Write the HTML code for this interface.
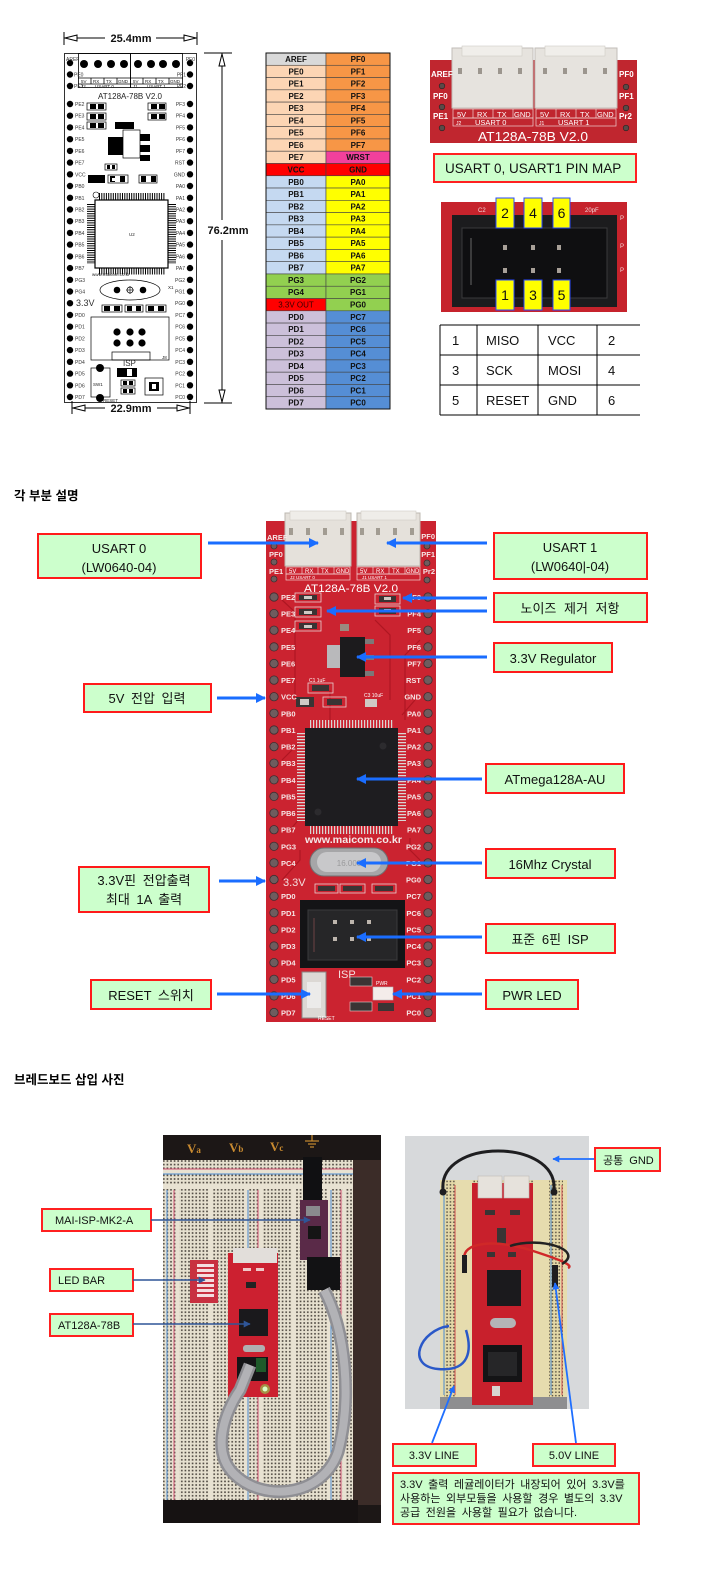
<!DOCTYPE html>
<html><head><meta charset="utf-8">
<style>
html,body{margin:0;padding:0;background:#fff;width:701px;height:1572px;overflow:hidden}
svg{display:block}
</style></head><body>
<svg xmlns="http://www.w3.org/2000/svg" width="701" height="1572" viewBox="0 0 701 1572" font-family="'Liberation Sans','Noto Sans CJK KR',sans-serif">
<defs>
<marker id="ab" viewBox="0 0 10 10" refX="9" refY="5" markerWidth="12" markerHeight="10" markerUnits="userSpaceOnUse" orient="auto"><path d="M0,0 L10,5 L0,10 z" fill="#1a6dff"/></marker>
<marker id="ad" viewBox="0 0 10 10" refX="9" refY="5" markerWidth="8" markerHeight="7" markerUnits="userSpaceOnUse" orient="auto"><path d="M0,0 L10,5 L0,10 z" fill="#2f5597"/></marker>
<marker id="ac" viewBox="0 0 10 10" refX="9" refY="5" markerWidth="9" markerHeight="7" markerUnits="userSpaceOnUse" orient="auto"><path d="M0,0 L10,5 L0,10 z" fill="#1f6fff"/></marker>
<pattern id="bb" width="3.6" height="3.6" patternUnits="userSpaceOnUse"><rect width="3.6" height="3.6" fill="#e6e0cf"/><rect x="1" y="1" width="1.6" height="1.6" fill="#4a443d"/></pattern>
<pattern id="bb2" width="3.4" height="3.4" patternUnits="userSpaceOnUse"><rect width="3.4" height="3.4" fill="#e4d9a8"/><rect x="0.9" y="0.9" width="1.5" height="1.5" fill="#5e5646"/></pattern>
</defs>

<!-- ================= TOP LEFT DRAWING ================= -->
<g fill="none" stroke="#000" stroke-width="0.8">
 <rect x="64.5" y="53.5" width="132" height="349"/>
 <rect x="78.5" y="53.5" width="52" height="34"/>
 <rect x="130.5" y="53.5" width="52" height="34"/>
 <line x1="78" y1="78" x2="183" y2="78"/>
 <line x1="78" y1="84" x2="183" y2="84"/>
 <line x1="91" y1="78" x2="91" y2="84"/><line x1="104" y1="78" x2="104" y2="84"/><line x1="117" y1="78" x2="117" y2="84"/>
 <line x1="143" y1="78" x2="143" y2="84"/><line x1="156" y1="78" x2="156" y2="84"/><line x1="169" y1="78" x2="169" y2="84"/>
</g>
<g fill="#000">
 <circle cx="84" cy="64" r="4"/><circle cx="98" cy="64" r="4"/><circle cx="111" cy="64" r="4"/><circle cx="124" cy="64" r="4"/>
 <circle cx="138" cy="64" r="4"/><circle cx="151" cy="64" r="4"/><circle cx="163" cy="64" r="4"/><circle cx="176" cy="64" r="4"/>
</g>
<g font-size="4.5" fill="#222">
 <text x="81" y="83">5V</text><text x="93" y="83">RX</text><text x="106" y="83">TX</text><text x="118" y="83">GND</text>
 <text x="133" y="83">5V</text><text x="145" y="83">RX</text><text x="158" y="83">TX</text><text x="170" y="83">GND</text>
 <text x="81" y="88">J2</text><text x="95" y="88">USART 0</text><text x="133" y="88">J1</text><text x="147" y="88">USART 1</text>
</g>
<text x="130" y="99" font-size="8" text-anchor="middle" fill="#222">AT128A-78B V2.0</text>

<!-- dimension lines -->
<g stroke="#000" stroke-width="1" fill="#fff">
 <line x1="64" y1="32" x2="64" y2="45"/><line x1="197" y1="32" x2="197" y2="45"/>
 <line x1="64" y1="38" x2="105" y2="38"/><line x1="156" y1="38" x2="197" y2="38"/>
 <polygon points="65,38 77,35 77,41"/><polygon points="196,38 184,35 184,41"/>
 <line x1="204" y1="53" x2="232" y2="53"/><line x1="204" y1="403" x2="232" y2="403"/>
 <line x1="222" y1="53" x2="222" y2="220"/><line x1="222" y1="240" x2="222" y2="403"/>
 <polygon points="222,54 219,66 225,66"/><polygon points="222,402 219,390 225,390"/>
 <line x1="72" y1="401" x2="72" y2="414"/><line x1="190" y1="401" x2="190" y2="414"/>
 <line x1="72" y1="408" x2="105" y2="408"/><line x1="157" y1="408" x2="190" y2="408"/>
 <polygon points="73,408 85,405 85,411"/><polygon points="189,408 177,405 177,411"/>
</g>
<g font-size="11" font-weight="bold" fill="#111">
 <text x="131" y="42" text-anchor="middle">25.4mm</text>
 <text x="228" y="234" text-anchor="middle">76.2mm</text>
 <text x="131" y="412" text-anchor="middle">22.9mm</text>
</g>

<!-- drawing components -->
<g fill="none" stroke="#000" stroke-width="0.7">
 <rect x="87" y="103" width="19" height="7"/><rect x="87" y="113" width="19" height="7"/><rect x="87" y="122" width="19" height="7"/>
 <rect x="148" y="103" width="18" height="7"/><rect x="148" y="113" width="18" height="7"/>
 <rect x="123" y="130" width="17" height="28"/>
 <rect x="105" y="164" width="12" height="6"/>
 <rect x="108" y="175" width="20" height="8"/><rect x="139" y="175" width="18" height="8"/>
 <rect x="95" y="200" width="73" height="68" stroke-width="1.2"/>
 <ellipse cx="130" cy="290" rx="30" ry="10"/>
 <circle cx="130" cy="290" r="3"/>
 <rect x="102" y="305" width="20" height="7"/><rect x="125" y="305" width="18" height="7"/><rect x="146" y="305" width="20" height="7"/>
 <rect x="91" y="317" width="78" height="43"/>
 <rect x="112" y="352" width="38" height="8"/>
 <rect x="91" y="368" width="19" height="29"/>
 <rect x="145" y="378" width="18" height="17"/>
 <rect x="121" y="380" width="14" height="6"/><rect x="121" y="388" width="14" height="6"/>
</g>
<g fill="#000">
 <rect x="90" y="104" width="6" height="5"/><rect x="98" y="104" width="6" height="5"/>
 <rect x="90" y="114" width="6" height="5"/><rect x="98" y="114" width="6" height="5"/>
 <rect x="90" y="123" width="6" height="5"/><rect x="98" y="123" width="6" height="5"/>
 <rect x="151" y="104" width="6" height="5"/><rect x="159" y="104" width="6" height="5"/>
 <rect x="151" y="114" width="6" height="5"/><rect x="159" y="114" width="6" height="5"/>
 <rect x="115" y="122" width="19" height="7"/>
 <rect x="108" y="137" width="15" height="18"/>
 <rect x="140" y="134" width="10" height="7"/><rect x="140" y="145" width="10" height="7"/><rect x="140" y="155" width="10" height="6"/>
 <rect x="107" y="165" width="3" height="4"/><rect x="112" y="165" width="3" height="4"/>
 <rect x="88" y="175" width="17" height="8"/>
 <rect x="110" y="176" width="5" height="6"/><rect x="120" y="176" width="5" height="6"/>
 <rect x="141" y="176" width="5" height="6"/><rect x="151" y="176" width="5" height="6"/>
 <circle cx="117" cy="290" r="3.3"/><circle cx="143" cy="290" r="3.3"/>
 <rect x="104" y="306" width="6" height="5"/><rect x="114" y="306" width="6" height="5"/>
 <rect x="127" y="306" width="5" height="5"/><rect x="136" y="306" width="5" height="5"/>
 <rect x="148" y="306" width="6" height="5"/><rect x="158" y="306" width="6" height="5"/>
 <circle cx="117" cy="332" r="3.6"/><circle cx="130" cy="332" r="3.6"/><circle cx="142" cy="332" r="3.6"/>
 <circle cx="117" cy="343" r="3.6"/><circle cx="130" cy="343" r="3.6"/><circle cx="142" cy="343" r="3.6"/>
 <circle cx="100" cy="368" r="4"/><circle cx="100" cy="398" r="4"/>
 <rect x="117" y="368" width="20" height="9"/>
 <rect x="123" y="381" width="4" height="4"/><rect x="129" y="381" width="4" height="4"/>
 <rect x="123" y="389" width="4" height="4"/><rect x="129" y="389" width="4" height="4"/>
 <rect x="149" y="382" width="10" height="9"/>
</g>
<rect x="112" y="178" width="3" height="3" fill="#fff"/>
<rect x="127" y="369" width="5" height="7" fill="#fff"/>
<rect x="152" y="384" width="4" height="5" fill="#fff"/>
<g stroke="#000" stroke-width="7" stroke-dasharray="1 1.3">
 <line x1="99" y1="196.5" x2="165" y2="196.5"/>
 <line x1="99" y1="271" x2="165" y2="271"/>
</g>
<g stroke="#000" stroke-width="8" stroke-dasharray="1 1.3">
 <line x1="91" y1="204" x2="91" y2="264"/>
 <line x1="172" y1="204" x2="172" y2="264"/>
</g>
<line x1="126" y1="290" x2="134" y2="290" stroke="#000" stroke-width="0.6"/><line x1="130" y1="286" x2="130" y2="294" stroke="#000" stroke-width="0.6"/>
<circle cx="96" cy="195" r="3" fill="none" stroke="#000" stroke-width="0.6"/>
<g font-size="4.5" fill="#222">
 <text x="92" y="276">www.maicom.co.kr</text>
 <text x="168" y="289">X1</text><text x="129" y="236">U2</text>
 <text x="93" y="386">SW1</text><text x="103" y="402">RESET</text>
 <text x="162" y="359">J8</text>
</g>
<text x="76" y="306" font-size="9" fill="#333">3.3V</text>
<text x="123" y="366" font-size="8" fill="#333">ISP</text>

<!-- drawing pins -->
<g fill="#000">
 <circle cx="70" cy="63" r="3.2"/><circle cx="70" cy="74.5" r="3.2"/><circle cx="70" cy="86" r="3.2"/>
 <circle cx="70" cy="104" r="3.2"/><circle cx="70" cy="115.7" r="3.2"/><circle cx="70" cy="127.4" r="3.2"/><circle cx="70" cy="139.2" r="3.2"/><circle cx="70" cy="150.9" r="3.2"/><circle cx="70" cy="162.6" r="3.2"/><circle cx="70" cy="174.3" r="3.2"/><circle cx="70" cy="186" r="3.2"/><circle cx="70" cy="197.8" r="3.2"/><circle cx="70" cy="209.5" r="3.2"/><circle cx="70" cy="221.2" r="3.2"/><circle cx="70" cy="232.9" r="3.2"/><circle cx="70" cy="244.6" r="3.2"/><circle cx="70" cy="256.4" r="3.2"/><circle cx="70" cy="268.1" r="3.2"/><circle cx="70" cy="279.8" r="3.2"/><circle cx="70" cy="291.5" r="3.2"/><circle cx="70" cy="303.2" r="3.2"/><circle cx="70" cy="315" r="3.2"/><circle cx="70" cy="326.7" r="3.2"/><circle cx="70" cy="338.4" r="3.2"/><circle cx="70" cy="350.1" r="3.2"/><circle cx="70" cy="361.8" r="3.2"/><circle cx="70" cy="373.6" r="3.2"/><circle cx="70" cy="385.3" r="3.2"/><circle cx="70" cy="397" r="3.2"/>
 <circle cx="190" cy="63" r="3.2"/><circle cx="190" cy="74.5" r="3.2"/><circle cx="190" cy="86" r="3.2"/>
 <circle cx="190" cy="104" r="3.2"/><circle cx="190" cy="115.7" r="3.2"/><circle cx="190" cy="127.4" r="3.2"/><circle cx="190" cy="139.2" r="3.2"/><circle cx="190" cy="150.9" r="3.2"/><circle cx="190" cy="162.6" r="3.2"/><circle cx="190" cy="174.3" r="3.2"/><circle cx="190" cy="186" r="3.2"/><circle cx="190" cy="197.8" r="3.2"/><circle cx="190" cy="209.5" r="3.2"/><circle cx="190" cy="221.2" r="3.2"/><circle cx="190" cy="232.9" r="3.2"/><circle cx="190" cy="244.6" r="3.2"/><circle cx="190" cy="256.4" r="3.2"/><circle cx="190" cy="268.1" r="3.2"/><circle cx="190" cy="279.8" r="3.2"/><circle cx="190" cy="291.5" r="3.2"/><circle cx="190" cy="303.2" r="3.2"/><circle cx="190" cy="315" r="3.2"/><circle cx="190" cy="326.7" r="3.2"/><circle cx="190" cy="338.4" r="3.2"/><circle cx="190" cy="350.1" r="3.2"/><circle cx="190" cy="361.8" r="3.2"/><circle cx="190" cy="373.6" r="3.2"/><circle cx="190" cy="385.3" r="3.2"/><circle cx="190" cy="397" r="3.2"/>
</g>
<g font-size="5" fill="#333">
 <text x="66" y="61">AREF</text><text x="74" y="76.5">PE0</text><text x="74" y="88">PE1</text>
 <text x="75" y="106">PE2</text><text x="75" y="117.7">PE3</text><text x="75" y="129.4">PE4</text><text x="75" y="141.2">PE5</text><text x="75" y="152.9">PE6</text><text x="75" y="164.6">PE7</text><text x="75" y="176.3">VCC</text><text x="75" y="188">PB0</text><text x="75" y="199.8">PB1</text><text x="75" y="211.5">PB2</text><text x="75" y="223.2">PB3</text><text x="75" y="234.9">PB4</text><text x="75" y="246.6">PB5</text><text x="75" y="258.4">PB6</text><text x="75" y="270.1">PB7</text><text x="75" y="281.8">PG3</text><text x="75" y="293.5">PG4</text><text x="75" y="317">PD0</text><text x="75" y="328.7">PD1</text><text x="75" y="340.4">PD2</text><text x="75" y="352.1">PD3</text><text x="75" y="363.8">PD4</text><text x="75" y="375.6">PD5</text><text x="75" y="387.3">PD6</text><text x="75" y="399">PD7</text>
</g>
<g font-size="5" fill="#333" text-anchor="end">
 <text x="195" y="61">PF0</text><text x="186" y="76.5">PF1</text><text x="186" y="88">PF2</text>
 <text x="185" y="106">PF3</text><text x="185" y="117.7">PF4</text><text x="185" y="129.4">PF5</text><text x="185" y="141.2">PF6</text><text x="185" y="152.9">PF7</text><text x="185" y="164.6">RST</text><text x="185" y="176.3">GND</text><text x="185" y="188">PA0</text><text x="185" y="199.8">PA1</text><text x="185" y="211.5">PA2</text><text x="185" y="223.2">PA3</text><text x="185" y="234.9">PA4</text><text x="185" y="246.6">PA5</text><text x="185" y="258.4">PA6</text><text x="185" y="270.1">PA7</text><text x="185" y="281.8">PG2</text><text x="185" y="293.5">PG1</text><text x="185" y="305.2">PG0</text><text x="185" y="317">PC7</text><text x="185" y="328.7">PC6</text><text x="185" y="340.4">PC5</text><text x="185" y="352.1">PC4</text><text x="185" y="363.8">PC3</text><text x="185" y="375.6">PC2</text><text x="185" y="387.3">PC1</text><text x="185" y="399">PC0</text>
</g>

<!-- ================= PIN TABLE ================= -->
<g stroke="#444" stroke-width="0.6">
 <rect x="266" y="53" width="60" height="12.28" fill="#d9d9d9"/><rect x="326" y="53" width="64" height="12.28" fill="#f79646"/>
 <rect x="266" y="65.28" width="60" height="12.28" fill="#fcd5b4"/><rect x="326" y="65.28" width="64" height="12.28" fill="#f79646"/>
 <rect x="266" y="77.55" width="60" height="12.28" fill="#fcd5b4"/><rect x="326" y="77.55" width="64" height="12.28" fill="#f79646"/>
 <rect x="266" y="89.83" width="60" height="12.28" fill="#fcd5b4"/><rect x="326" y="89.83" width="64" height="12.28" fill="#f79646"/>
 <rect x="266" y="102.1" width="60" height="12.28" fill="#fcd5b4"/><rect x="326" y="102.1" width="64" height="12.28" fill="#f79646"/>
 <rect x="266" y="114.38" width="60" height="12.28" fill="#fcd5b4"/><rect x="326" y="114.38" width="64" height="12.28" fill="#f79646"/>
 <rect x="266" y="126.66" width="60" height="12.28" fill="#fcd5b4"/><rect x="326" y="126.66" width="64" height="12.28" fill="#f79646"/>
 <rect x="266" y="138.93" width="60" height="12.28" fill="#fcd5b4"/><rect x="326" y="138.93" width="64" height="12.28" fill="#f79646"/>
 <rect x="266" y="151.21" width="60" height="12.28" fill="#fcd5b4"/><rect x="326" y="151.21" width="64" height="12.28" fill="#f2409c"/>
 <rect x="266" y="163.48" width="60" height="12.28" fill="#ff0000"/><rect x="326" y="163.48" width="64" height="12.28" fill="#ff0000"/>
 <rect x="266" y="175.76" width="60" height="12.28" fill="#c5d9f1"/><rect x="326" y="175.76" width="64" height="12.28" fill="#ffff00"/>
 <rect x="266" y="188.04" width="60" height="12.28" fill="#c5d9f1"/><rect x="326" y="188.04" width="64" height="12.28" fill="#ffff00"/>
 <rect x="266" y="200.31" width="60" height="12.28" fill="#c5d9f1"/><rect x="326" y="200.31" width="64" height="12.28" fill="#ffff00"/>
 <rect x="266" y="212.59" width="60" height="12.28" fill="#c5d9f1"/><rect x="326" y="212.59" width="64" height="12.28" fill="#ffff00"/>
 <rect x="266" y="224.86" width="60" height="12.28" fill="#c5d9f1"/><rect x="326" y="224.86" width="64" height="12.28" fill="#ffff00"/>
 <rect x="266" y="237.14" width="60" height="12.28" fill="#c5d9f1"/><rect x="326" y="237.14" width="64" height="12.28" fill="#ffff00"/>
 <rect x="266" y="249.42" width="60" height="12.28" fill="#c5d9f1"/><rect x="326" y="249.42" width="64" height="12.28" fill="#ffff00"/>
 <rect x="266" y="261.69" width="60" height="12.28" fill="#c5d9f1"/><rect x="326" y="261.69" width="64" height="12.28" fill="#ffff00"/>
 <rect x="266" y="273.97" width="60" height="12.28" fill="#92d050"/><rect x="326" y="273.97" width="64" height="12.28" fill="#92d050"/>
 <rect x="266" y="286.24" width="60" height="12.28" fill="#92d050"/><rect x="326" y="286.24" width="64" height="12.28" fill="#92d050"/>
 <rect x="266" y="298.52" width="60" height="12.28" fill="#ff0000"/><rect x="326" y="298.52" width="64" height="12.28" fill="#92d050"/>
 <rect x="266" y="310.8" width="60" height="12.28" fill="#ccc0da"/><rect x="326" y="310.8" width="64" height="12.28" fill="#558ed5"/>
 <rect x="266" y="323.07" width="60" height="12.28" fill="#ccc0da"/><rect x="326" y="323.07" width="64" height="12.28" fill="#558ed5"/>
 <rect x="266" y="335.35" width="60" height="12.28" fill="#ccc0da"/><rect x="326" y="335.35" width="64" height="12.28" fill="#558ed5"/>
 <rect x="266" y="347.62" width="60" height="12.28" fill="#ccc0da"/><rect x="326" y="347.62" width="64" height="12.28" fill="#558ed5"/>
 <rect x="266" y="359.9" width="60" height="12.28" fill="#ccc0da"/><rect x="326" y="359.9" width="64" height="12.28" fill="#558ed5"/>
 <rect x="266" y="372.18" width="60" height="12.28" fill="#ccc0da"/><rect x="326" y="372.18" width="64" height="12.28" fill="#558ed5"/>
 <rect x="266" y="384.45" width="60" height="12.28" fill="#ccc0da"/><rect x="326" y="384.45" width="64" height="12.28" fill="#558ed5"/>
 <rect x="266" y="396.73" width="60" height="12.28" fill="#ccc0da"/><rect x="326" y="396.73" width="64" height="12.28" fill="#558ed5"/>
</g>
<rect x="266" y="53" width="124" height="356" fill="none" stroke="#111" stroke-width="1"/>
<g font-size="8" font-weight="bold" fill="#111" text-anchor="middle">
 <text x="296" y="62">AREF</text><text x="358" y="62">PF0</text>
 <text x="296" y="74.3">PE0</text><text x="358" y="74.3">PF1</text>
 <text x="296" y="86.5">PE1</text><text x="358" y="86.5">PF2</text>
 <text x="296" y="98.8">PE2</text><text x="358" y="98.8">PF3</text>
 <text x="296" y="111.1">PE3</text><text x="358" y="111.1">PF4</text>
 <text x="296" y="123.4">PE4</text><text x="358" y="123.4">PF5</text>
 <text x="296" y="135.7">PE5</text><text x="358" y="135.7">PF6</text>
 <text x="296" y="147.9">PE6</text><text x="358" y="147.9">PF7</text>
 <text x="296" y="160.2">PE7</text><text x="358" y="160.2">WRST</text>
 <text x="296" y="172.5">VCC</text><text x="358" y="172.5">GND</text>
 <text x="296" y="184.8">PB0</text><text x="358" y="184.8">PA0</text>
 <text x="296" y="197">PB1</text><text x="358" y="197">PA1</text>
 <text x="296" y="209.3">PB2</text><text x="358" y="209.3">PA2</text>
 <text x="296" y="221.6">PB3</text><text x="358" y="221.6">PA3</text>
 <text x="296" y="233.9">PB4</text><text x="358" y="233.9">PA4</text>
 <text x="296" y="246.1">PB5</text><text x="358" y="246.1">PA5</text>
 <text x="296" y="258.4">PB6</text><text x="358" y="258.4">PA6</text>
 <text x="296" y="270.7">PB7</text><text x="358" y="270.7">PA7</text>
 <text x="296" y="283">PG3</text><text x="358" y="283">PG2</text>
 <text x="296" y="295.2">PG4</text><text x="358" y="295.2">PG1</text>
 <text x="296" y="307.5" fill="#3a0000" font-weight="normal">3.3V OUT</text><text x="358" y="307.5">PG0</text>
 <text x="296" y="319.8">PD0</text><text x="358" y="319.8">PC7</text>
 <text x="296" y="332.1">PD1</text><text x="358" y="332.1">PC6</text>
 <text x="296" y="344.3">PD2</text><text x="358" y="344.3">PC5</text>
 <text x="296" y="356.6">PD3</text><text x="358" y="356.6">PC4</text>
 <text x="296" y="368.9">PD4</text><text x="358" y="368.9">PC3</text>
 <text x="296" y="381.2">PD5</text><text x="358" y="381.2">PC2</text>
 <text x="296" y="393.4">PD6</text><text x="358" y="393.4">PC1</text>
 <text x="296" y="405.7">PD7</text><text x="358" y="405.7">PC0</text>
</g>

<!-- ================= TOP RIGHT: USART photo ================= -->
<rect x="430" y="60" width="207" height="83" fill="#c0262f"/>
<rect x="452" y="48" width="81" height="60" fill="#e6e3de" stroke="#c2beb8"/>
<rect x="535" y="48" width="82" height="60" fill="#e6e3de" stroke="#c2beb8"/>
<rect x="462" y="46" width="60" height="10" fill="#f0eeea" stroke="#cfcbc5" stroke-width="0.6"/>
<rect x="545" y="46" width="60" height="10" fill="#f0eeea" stroke="#cfcbc5" stroke-width="0.6"/>
<g fill="#9c968e">
 <rect x="458" y="68" width="4" height="6"/><rect x="478" y="68" width="4" height="6"/><rect x="498" y="68" width="4" height="6"/><rect x="518" y="68" width="4" height="6"/>
 <rect x="543" y="68" width="4" height="6"/><rect x="563" y="68" width="4" height="6"/><rect x="583" y="68" width="4" height="6"/><rect x="603" y="68" width="4" height="6"/>
</g>
<g fill="none" stroke="#f0d0d0" stroke-width="0.7">
 <rect x="453" y="109" width="80" height="9"/><rect x="536" y="109" width="80" height="9"/>
 <line x1="473" y1="109" x2="473" y2="118"/><line x1="493" y1="109" x2="493" y2="118"/><line x1="513" y1="109" x2="513" y2="118"/>
 <line x1="556" y1="109" x2="556" y2="118"/><line x1="576" y1="109" x2="576" y2="118"/><line x1="596" y1="109" x2="596" y2="118"/>
 <rect x="453" y="118" width="80" height="8"/><rect x="536" y="118" width="80" height="8"/>
</g>
<g font-size="7.5" fill="#fff">
 <text x="457" y="117">5V</text><text x="477" y="117">RX</text><text x="497" y="117">TX</text><text x="514" y="117">GND</text>
 <text x="540" y="117">5V</text><text x="560" y="117">RX</text><text x="580" y="117">TX</text><text x="597" y="117">GND</text>
 <text x="456" y="125" font-size="5">J2</text><text x="475" y="125">USART 0</text>
 <text x="539" y="125" font-size="5">J1</text><text x="558" y="125">USART 1</text>
</g>
<text x="533" y="141" font-size="12.5" fill="#fff" text-anchor="middle" textLength="110" lengthAdjust="spacingAndGlyphs">AT128A-78B V2.0</text>
<g font-size="8" font-weight="bold" fill="#fff">
 <text x="431" y="77">AREF</text><text x="433" y="99">PF0</text><text x="433" y="119">PE1</text>
 <text x="619" y="77">PF0</text><text x="619" y="99">PF1</text><text x="619" y="119">Pr2</text>
</g>
<g fill="#5a4a48" stroke="#2a2020" stroke-width="0.6">
 <circle cx="442" cy="86" r="2.8"/><circle cx="442" cy="107" r="2.8"/><circle cx="442" cy="128" r="2.8"/>
 <circle cx="626" cy="87" r="2.8"/><circle cx="626" cy="108" r="2.8"/><circle cx="626" cy="128" r="2.8"/>
</g>

<rect x="434" y="154" width="202" height="28" fill="#ccffcc" stroke="#ff2020" stroke-width="2"/>
<text x="445" y="173" font-size="13.5" fill="#111">USART 0, USART1 PIN MAP</text>

<!-- ISP photo -->
<rect x="441" y="202" width="186" height="110" fill="#c6232c"/>
<rect x="452" y="215" width="165" height="92" fill="#1c1c1e"/>
<rect x="462" y="228" width="145" height="70" fill="#0f0f11" stroke="#3a3a3c" stroke-width="1"/>
<line x1="471" y1="238" x2="471" y2="285" stroke="#4a4a4a" stroke-width="1.5"/>
<g fill="#a8a098">
 <rect x="503" y="245" width="4" height="5"/><rect x="531" y="245" width="4" height="5"/><rect x="557" y="245" width="4" height="5"/>
 <rect x="503" y="268" width="4" height="5"/><rect x="531" y="268" width="4" height="5"/><rect x="557" y="268" width="4" height="5"/>
</g>
<g font-size="6" fill="#f2dada"><text x="478" y="212">C2</text><text x="585" y="212">20pF</text><text x="620" y="220">P</text><text x="620" y="248">P</text><text x="620" y="272">P</text></g>
<g fill="#ffff00" stroke="#2a48ff" stroke-width="1">
 <rect x="496" y="198" width="18" height="30"/><rect x="524" y="198" width="18" height="30"/><rect x="553" y="198" width="17" height="30"/>
 <rect x="496" y="280" width="18" height="30"/><rect x="524" y="280" width="18" height="30"/><rect x="553" y="280" width="17" height="30"/>
</g>
<g font-size="14" fill="#111" text-anchor="middle">
 <text x="505" y="218">2</text><text x="533" y="218">4</text><text x="561.5" y="218">6</text>
 <text x="505" y="300">1</text><text x="533" y="300">3</text><text x="561.5" y="300">5</text>
</g>

<!-- ISP table -->
<g stroke="#000" stroke-width="1" fill="none">
 <line x1="440" y1="325" x2="640" y2="325"/><line x1="440" y1="355" x2="640" y2="355"/><line x1="440" y1="385" x2="640" y2="385"/><line x1="440" y1="415" x2="640" y2="415"/>
 <line x1="440" y1="325" x2="440" y2="415"/><line x1="477" y1="325" x2="477" y2="415"/><line x1="538" y1="325" x2="538" y2="415"/><line x1="597" y1="325" x2="597" y2="415"/>
</g>
<g font-size="13" fill="#111">
 <text x="452" y="345">1</text><text x="486" y="345">MISO</text><text x="548" y="345">VCC</text><text x="608" y="345">2</text>
 <text x="452" y="375">3</text><text x="486" y="375">SCK</text><text x="548" y="375">MOSI</text><text x="608" y="375">4</text>
 <text x="452" y="405">5</text><text x="486" y="405">RESET</text><text x="548" y="405">GND</text><text x="608" y="405">6</text>
</g>

<!-- ================= SECTION 2 ================= -->
<text x="14" y="500" font-size="12.5" font-weight="bold" fill="#000">각 부분 설명</text>

<!-- PCB -->
<rect x="266" y="521" width="170" height="501" fill="#cb2330"/>
<g stroke="#a8141f" stroke-width="1.2" fill="none" opacity="0.8">
 <path d="M282 600 L295 612 L295 700"/><path d="M282 760 L300 742"/><path d="M420 640 L405 655 L405 720"/>
 <path d="M282 880 L300 860 L300 850"/><path d="M415 700 L402 715"/><path d="M290 830 L300 818"/>
 <path d="M420 860 L410 850 L410 838"/><path d="M375 620 L390 635 L390 700"/><path d="M330 690 L330 720"/>
</g>
<!-- connectors -->
<rect x="285" y="513" width="66" height="53" fill="#e5e1db" stroke="#bdb8b0"/>
<rect x="357" y="513" width="63" height="53" fill="#e5e1db" stroke="#bdb8b0"/>
<rect x="290" y="511" width="56" height="9" fill="#efede9" stroke="#cfcbc5" stroke-width="0.6"/>
<rect x="361" y="511" width="55" height="9" fill="#efede9" stroke="#cfcbc5" stroke-width="0.6"/>
<g fill="#a29c92">
 <rect x="289" y="528" width="4" height="7"/><rect x="306" y="528" width="4" height="7"/><rect x="323" y="528" width="4" height="7"/><rect x="340" y="528" width="4" height="7"/>
 <rect x="360" y="528" width="4" height="7"/><rect x="376" y="528" width="4" height="7"/><rect x="393" y="528" width="4" height="7"/><rect x="410" y="528" width="4" height="7"/>
</g>
<g fill="none" stroke="#f2d2d2" stroke-width="0.7">
 <rect x="286" y="567" width="64" height="7"/><rect x="357" y="567" width="63" height="7"/>
 <rect x="286" y="574" width="64" height="6"/><rect x="357" y="574" width="63" height="6"/>
 <line x1="302" y1="567" x2="302" y2="574"/><line x1="318" y1="567" x2="318" y2="574"/><line x1="334" y1="567" x2="334" y2="574"/>
 <line x1="373" y1="567" x2="373" y2="574"/><line x1="389" y1="567" x2="389" y2="574"/><line x1="405" y1="567" x2="405" y2="574"/>
</g>
<g font-size="6" fill="#fff">
 <text x="289" y="573">5V</text><text x="305" y="573">RX</text><text x="321" y="573">TX</text><text x="336" y="573">GND</text>
 <text x="360" y="573">5V</text><text x="376" y="573">RX</text><text x="392" y="573">TX</text><text x="406" y="573">GND</text>
 <text x="290" y="579" font-size="4.5">J2 USART 0</text><text x="362" y="579" font-size="4.5">J1 USART 1</text>
</g>
<text x="351" y="592" font-size="11" fill="#fff" text-anchor="middle" textLength="94" lengthAdjust="spacingAndGlyphs">AT128A-78B V2.0</text>
<!-- resistors -->
<g fill="none" stroke="#e8d0d0" stroke-width="0.8">
 <rect x="295" y="593" width="26" height="9"/><rect x="295" y="607" width="26" height="10"/><rect x="295" y="621" width="26" height="10"/>
 <rect x="375" y="594" width="25" height="10"/><rect x="375" y="606" width="25" height="10"/>
 <rect x="308" y="683" width="25" height="10"/><rect x="323" y="697" width="23" height="10"/>
 <rect x="315" y="884" width="23" height="9"/><rect x="340" y="884" width="25" height="9"/><rect x="372" y="884" width="24" height="9"/>
</g>
<g fill="#3a3434">
 <rect x="299" y="595" width="18" height="5"/><rect x="299" y="609" width="18" height="6"/><rect x="299" y="623" width="18" height="6"/>
 <rect x="379" y="596" width="17" height="6"/><rect x="379" y="608" width="17" height="6"/>
 <rect x="312" y="685" width="17" height="6"/><rect x="296" y="697" width="18" height="10"/><rect x="327" y="699" width="15" height="6"/>
 <rect x="318" y="886" width="17" height="5"/><rect x="343" y="886" width="19" height="5"/><rect x="375" y="886" width="18" height="5"/>
</g>
<g fill="#cfc9c4">
 <rect x="304" y="596" width="8" height="3"/><rect x="304" y="611" width="8" height="3"/><rect x="304" y="625" width="8" height="3"/>
 <rect x="384" y="597" width="7" height="3"/><rect x="384" y="609" width="7" height="3"/>
 <rect x="300" y="699" width="9" height="6"/><rect x="365" y="699" width="12" height="8"/>
</g>
<rect x="340" y="624" width="9" height="7" fill="#9a8a80"/>
<!-- regulator -->
<rect x="327" y="645" width="14" height="23" fill="#b9b9bb"/>
<rect x="340" y="637" width="25" height="40" fill="#1c1b1d"/>
<g fill="#7c7878"><rect x="365" y="639" width="9" height="5"/><rect x="365" y="655" width="9" height="5"/><rect x="365" y="671" width="9" height="5"/></g>
<g font-size="5" fill="#fff"><text x="309" y="682">C1 1uF</text><text x="364" y="697">C3 10uF</text></g>
<!-- main chip -->
<g stroke="#d8d6d4" stroke-dasharray="1.2 1.8">
 <line x1="310" y1="724" x2="393" y2="724" stroke-width="8"/>
 <line x1="310" y1="830" x2="393" y2="830" stroke-width="8"/>
 <line x1="301" y1="733" x2="301" y2="821" stroke-width="8"/>
 <line x1="402" y1="733" x2="402" y2="821" stroke-width="8"/>
</g>
<rect x="305" y="728" width="93" height="98" fill="#1e1d20"/>
<circle cx="318" cy="812" r="3.5" fill="#2c2b2e"/><circle cx="383" cy="746" r="3.5" fill="#2c2b2e"/>
<text x="305" y="843" font-size="10.5" font-weight="bold" fill="#f4e8e8" textLength="97" lengthAdjust="spacingAndGlyphs">www.maicom.co.kr</text>
<!-- crystal -->
<rect x="310" y="848" width="78" height="28" rx="14" fill="#a6a6a8" stroke="#707072"/>
<rect x="317" y="852" width="64" height="20" rx="10" fill="#c8c8ca"/>
<text x="349" y="866" font-size="8" fill="#9a9a9c" text-anchor="middle">16.000</text>
<!-- ISP header -->
<rect x="300" y="900" width="105" height="68" fill="#141416"/>
<rect x="308" y="910" width="89" height="50" fill="#262628" stroke="#3a3a3c"/>
<line x1="314" y1="918" x2="314" y2="952" stroke="#55393a" stroke-width="1.5"/>
<g fill="#bdb5ad">
 <rect x="333" y="920" width="4" height="4"/><rect x="350" y="920" width="4" height="4"/><rect x="367" y="920" width="4" height="4"/>
 <rect x="333" y="937" width="4" height="4"/><rect x="350" y="937" width="4" height="4"/><rect x="367" y="937" width="4" height="4"/>
</g>
<text x="338" y="978" font-size="11" fill="#f4dede">ISP</text>
<!-- reset switch -->
<rect x="302" y="972" width="24" height="46" fill="#dcd8d4" stroke="#8a8684"/>
<rect x="307" y="982" width="14" height="26" fill="#ecebea"/>
<text x="318" y="1020" font-size="5" fill="#fff">RESET</text>
<!-- small parts bottom -->
<rect x="350" y="977" width="22" height="9" fill="#3a3434" stroke="#e8d0d0" stroke-width="0.6"/>
<rect x="350" y="1002" width="22" height="9" fill="#3a3434" stroke="#e8d0d0" stroke-width="0.6"/>
<rect x="373" y="987" width="20" height="13" fill="#f4ecea" stroke="#bbb" stroke-width="0.6"/>
<rect x="378" y="1003" width="16" height="8" fill="#3a3434"/>
<text x="376" y="985" font-size="5" fill="#fff">PWR</text>
<text x="283" y="886" font-size="11" fill="#f4dede">3.3V</text>

<!-- section 2 pins -->
<g fill="#6e5c5e" stroke="#3e2e30" stroke-width="0.8">
 <circle cx="274" cy="546" r="3"/><circle cx="274" cy="562" r="3"/><circle cx="274" cy="579" r="3"/>
 <circle cx="427" cy="546" r="3"/><circle cx="427" cy="563" r="3"/><circle cx="427" cy="580" r="3"/>
 <circle cx="274" cy="597" r="4.2"/><circle cx="274" cy="613.6" r="4.2"/><circle cx="274" cy="630.2" r="4.2"/><circle cx="274" cy="646.9" r="4.2"/><circle cx="274" cy="663.5" r="4.2"/><circle cx="274" cy="680.1" r="4.2"/><circle cx="274" cy="696.7" r="4.2"/><circle cx="274" cy="713.3" r="4.2"/><circle cx="274" cy="730" r="4.2"/><circle cx="274" cy="746.6" r="4.2"/><circle cx="274" cy="763.2" r="4.2"/><circle cx="274" cy="779.8" r="4.2"/><circle cx="274" cy="796.4" r="4.2"/><circle cx="274" cy="813.1" r="4.2"/><circle cx="274" cy="829.7" r="4.2"/><circle cx="274" cy="846.3" r="4.2"/><circle cx="274" cy="862.9" r="4.2"/><circle cx="274" cy="879.5" r="4.2"/><circle cx="274" cy="896.2" r="4.2"/><circle cx="274" cy="912.8" r="4.2"/><circle cx="274" cy="929.4" r="4.2"/><circle cx="274" cy="946" r="4.2"/><circle cx="274" cy="962.6" r="4.2"/><circle cx="274" cy="979.3" r="4.2"/><circle cx="274" cy="995.9" r="4.2"/><circle cx="274" cy="1012.5" r="4.2"/>
 <circle cx="428" cy="597" r="4.2"/><circle cx="428" cy="613.6" r="4.2"/><circle cx="428" cy="630.2" r="4.2"/><circle cx="428" cy="646.9" r="4.2"/><circle cx="428" cy="663.5" r="4.2"/><circle cx="428" cy="680.1" r="4.2"/><circle cx="428" cy="696.7" r="4.2"/><circle cx="428" cy="713.3" r="4.2"/><circle cx="428" cy="730" r="4.2"/><circle cx="428" cy="746.6" r="4.2"/><circle cx="428" cy="763.2" r="4.2"/><circle cx="428" cy="779.8" r="4.2"/><circle cx="428" cy="796.4" r="4.2"/><circle cx="428" cy="813.1" r="4.2"/><circle cx="428" cy="829.7" r="4.2"/><circle cx="428" cy="846.3" r="4.2"/><circle cx="428" cy="862.9" r="4.2"/><circle cx="428" cy="879.5" r="4.2"/><circle cx="428" cy="896.2" r="4.2"/><circle cx="428" cy="912.8" r="4.2"/><circle cx="428" cy="929.4" r="4.2"/><circle cx="428" cy="946" r="4.2"/><circle cx="428" cy="962.6" r="4.2"/><circle cx="428" cy="979.3" r="4.2"/><circle cx="428" cy="995.9" r="4.2"/><circle cx="428" cy="1012.5" r="4.2"/>
</g>
<g font-size="7.5" font-weight="bold" fill="#f6e6e6">
 <text x="267" y="540">AREF</text><text x="269" y="557">PF0</text><text x="269" y="574">PE1</text>
 <text x="281" y="600">PE2</text><text x="281" y="616.6">PE3</text><text x="281" y="633.2">PE4</text><text x="281" y="649.9">PE5</text><text x="281" y="666.5">PE6</text><text x="281" y="683.1">PE7</text><text x="281" y="699.7">VCC</text><text x="281" y="716.3">PB0</text><text x="281" y="733">PB1</text><text x="281" y="749.6">PB2</text><text x="281" y="766.2">PB3</text><text x="281" y="782.8">PB4</text><text x="281" y="799.4">PB5</text><text x="281" y="816.1">PB6</text><text x="281" y="832.7">PB7</text><text x="281" y="849.3">PG3</text><text x="281" y="865.9">PC4</text><text x="281" y="899.2">PD0</text><text x="281" y="915.8">PD1</text><text x="281" y="932.4">PD2</text><text x="281" y="949">PD3</text><text x="281" y="965.6">PD4</text><text x="281" y="982.3">PD5</text><text x="281" y="998.9">PD6</text><text x="281" y="1015.5">PD7</text>
</g>
<g font-size="7.5" font-weight="bold" fill="#f6e6e6" text-anchor="end">
 <text x="435" y="539">PF0</text><text x="435" y="557">PF1</text><text x="435" y="574">Pr2</text>
 <text x="421" y="600">PF3</text><text x="421" y="616.6">PF4</text><text x="421" y="633.2">PF5</text><text x="421" y="649.9">PF6</text><text x="421" y="666.5">PF7</text><text x="421" y="683.1">RST</text><text x="421" y="699.7">GND</text><text x="421" y="716.3">PA0</text><text x="421" y="733">PA1</text><text x="421" y="749.6">PA2</text><text x="421" y="766.2">PA3</text><text x="421" y="782.8">PA4</text><text x="421" y="799.4">PA5</text><text x="421" y="816.1">PA6</text><text x="421" y="832.7">PA7</text><text x="421" y="849.3">PG2</text><text x="421" y="865.9">PG1</text><text x="421" y="882.5">PG0</text><text x="421" y="899.2">PC7</text><text x="421" y="915.8">PC6</text><text x="421" y="932.4">PC5</text><text x="421" y="949">PC4</text><text x="421" y="965.6">PC3</text><text x="421" y="982.3">PC2</text><text x="421" y="998.9">PC1</text><text x="421" y="1015.5">PC0</text>
</g>

<!-- section 2 callout boxes -->
<g fill="#ccffcc" stroke="#ff1a1a" stroke-width="2">
 <rect x="38" y="534" width="163" height="44"/>
 <rect x="84" y="684" width="127" height="28"/>
 <rect x="79" y="867" width="130" height="45"/>
 <rect x="91" y="980" width="120" height="29"/>
 <rect x="494" y="533" width="153" height="46"/>
 <rect x="494" y="593" width="153" height="29"/>
 <rect x="494" y="643" width="118" height="29"/>
 <rect x="486" y="764" width="138" height="29"/>
 <rect x="486" y="849" width="129" height="29"/>
 <rect x="486" y="924" width="129" height="29"/>
 <rect x="486" y="980" width="92" height="29"/>
</g>
<g font-size="13" fill="#111" text-anchor="middle">
 <text x="119" y="553">USART 0</text><text x="119" y="572">(LW0640-04)</text>
 <text x="147" y="703" word-spacing="3">5V 전압 입력</text>
 <text x="144" y="885" word-spacing="3">3.3V핀 전압출력</text><text x="144" y="904" word-spacing="3">최대 1A 출력</text>
 <text x="151" y="1000" word-spacing="3">RESET 스위치</text>
 <text x="570" y="552">USART 1</text><text x="570" y="571">(LW0640|-04)</text>
 <text x="570" y="613" word-spacing="4">노이즈 제거 저항</text>
 <text x="553" y="663">3.3V Regulator</text>
 <text x="555" y="784">ATmega128A-AU</text>
 <text x="550" y="869">16Mhz Crystal</text>
 <text x="550" y="944" word-spacing="3">표준 6핀 ISP</text>
 <text x="532" y="1000">PWR LED</text>
</g>
<!-- section 2 arrows -->
<g stroke="#1a6dff" stroke-width="3" marker-end="url(#ab)">
 <line x1="208" y1="543" x2="318" y2="543"/>
 <line x1="217" y1="698" x2="265" y2="698"/>
 <line x1="219" y1="881" x2="265" y2="881"/>
 <line x1="217" y1="994" x2="310" y2="994"/>
 <line x1="487" y1="543" x2="387" y2="543"/>
 <line x1="487" y1="598" x2="403" y2="598"/>
 <line x1="487" y1="611" x2="327" y2="611"/>
 <line x1="487" y1="657" x2="357" y2="657"/>
 <line x1="482" y1="779" x2="357" y2="779"/>
 <line x1="482" y1="863" x2="357" y2="863"/>
 <line x1="482" y1="937" x2="357" y2="937"/>
 <line x1="482" y1="994" x2="393" y2="994"/>
</g>

<!-- ================= SECTION 3 ================= -->
<text x="14" y="1084" font-size="12.5" font-weight="bold" fill="#000">브레드보드 삽입 사진</text>

<!-- left photo -->
<rect x="163" y="1135" width="218" height="388" fill="#1c1716"/>
<rect x="353" y="1160" width="28" height="345" fill="#3b2c28"/>
<g font-family="'Liberation Serif',serif" font-weight="bold" fill="#c88a30">
 <text x="187" y="1153" font-size="13">V<tspan font-size="9">a</tspan></text>
 <text x="229" y="1152" font-size="13">V<tspan font-size="9">b</tspan></text>
 <text x="270" y="1151" font-size="13">V<tspan font-size="9">c</tspan></text>
</g>
<g stroke="#c88a30" stroke-width="1.2">
 <line x1="312" y1="1135" x2="312" y2="1141"/><line x1="305" y1="1141" x2="319" y2="1141"/><line x1="308" y1="1144" x2="316" y2="1144"/><line x1="310" y1="1147" x2="314" y2="1147"/>
</g>
<rect x="163" y="1160" width="190" height="342" fill="url(#bb)"/>
<g fill="#e8e2d2">
 <rect x="163" y="1169" width="190" height="5"/>
 <rect x="163" y="1184" width="190" height="5"/>
 <rect x="176" y="1189" width="3" height="313"/><rect x="209" y="1189" width="4" height="313"/><rect x="244" y="1189" width="4" height="313"/>
 <rect x="260" y="1189" width="3" height="313"/><rect x="292" y="1189" width="4" height="313"/><rect x="327" y="1189" width="4" height="313"/>
 <rect x="343" y="1189" width="3" height="313"/>
</g>
<g stroke-width="1">
 <line x1="163" y1="1169" x2="353" y2="1169" stroke="#d05070"/><line x1="163" y1="1174" x2="353" y2="1174" stroke="#4a8ad0"/>
 <line x1="167" y1="1190" x2="167" y2="1500" stroke="#4a8ad0"/><line x1="174" y1="1190" x2="174" y2="1500" stroke="#d05070"/>
 <line x1="248" y1="1190" x2="248" y2="1500" stroke="#4a8ad0"/><line x1="258" y1="1190" x2="258" y2="1500" stroke="#d05070"/>
 <line x1="331" y1="1190" x2="331" y2="1500" stroke="#4a8ad0"/><line x1="341" y1="1190" x2="341" y2="1500" stroke="#d05070"/>
</g>
<rect x="163" y="1500" width="195" height="23" fill="#161212"/>
<!-- programmer -->
<rect x="303" y="1157" width="19" height="44" fill="#101012"/>
<rect x="300" y="1200" width="28" height="60" fill="#5a2a48"/>
<rect x="306" y="1206" width="14" height="10" fill="#8a8a8e"/>
<rect x="308" y="1226" width="13" height="13" fill="#151515"/>
<rect x="307" y="1257" width="33" height="33" fill="#121214"/>
<!-- LED bar -->
<rect x="190" y="1260" width="28" height="43" fill="#c83040"/>
<g fill="#f4dde0"><rect x="197" y="1264" width="17" height="3"/><rect x="197" y="1269" width="17" height="3"/><rect x="197" y="1274" width="17" height="3"/><rect x="197" y="1279" width="17" height="3"/><rect x="197" y="1284" width="17" height="3"/><rect x="197" y="1289" width="17" height="3"/><rect x="197" y="1294" width="17" height="3"/></g>
<!-- red board -->
<rect x="228" y="1253" width="50" height="144" fill="#cc2030"/>
<rect x="233" y="1248" width="44" height="15" fill="#e2deda"/>
<g fill="#f0c8c8"><rect x="243" y="1268" width="8" height="3"/><rect x="256" y="1268" width="8" height="3"/><rect x="246" y="1282" width="10" height="6" fill="#222"/></g>
<rect x="239" y="1309" width="29" height="27" fill="#1a191c"/>
<rect x="243" y="1345" width="22" height="7" rx="3" fill="#b0b0b2"/>
<rect x="237" y="1357" width="31" height="24" fill="#151517"/>
<rect x="256" y="1358" width="10" height="14" fill="#1e5a2a"/>
<circle cx="265" cy="1389" r="5" fill="#7dff5a" opacity="0.5"/>
<circle cx="265" cy="1389" r="2.5" fill="#d8ffc8"/>
<!-- ribbon -->
<path d="M324 1290 C346 1330 352 1400 338 1452 C322 1498 262 1502 234 1474 C210 1450 226 1410 240 1390 L250 1365" fill="none" stroke="#8f8f94" stroke-width="13"/>
<path d="M324 1290 C346 1330 352 1400 338 1452 C322 1498 262 1502 234 1474 C210 1450 226 1410 240 1390 L250 1365" fill="none" stroke="#b2b2b6" stroke-width="8"/>

<!-- left callouts -->
<g fill="#ccffcc" stroke="#ff2020" stroke-width="2">
 <rect x="42" y="1209" width="109" height="22"/>
 <rect x="50" y="1269" width="83" height="22"/>
 <rect x="50" y="1314" width="83" height="22"/>
</g>
<g font-size="11" fill="#111">
 <text x="55" y="1224">MAI-ISP-MK2-A</text>
 <text x="58" y="1284">LED BAR</text>
 <text x="58" y="1329">AT128A-78B</text>
</g>
<g stroke="#2f5597" stroke-width="1.6" marker-end="url(#ad)">
 <line x1="151" y1="1220" x2="310" y2="1220"/>
 <line x1="133" y1="1280" x2="205" y2="1280"/>
 <line x1="133" y1="1324" x2="250" y2="1324"/>
</g>

<!-- right photo -->
<rect x="405" y="1136" width="184" height="273" fill="#d7d9db"/>
<rect x="440" y="1395" width="127" height="14" fill="#8e8e90"/>
<rect x="440" y="1180" width="127" height="217" fill="url(#bb2)"/>
<g fill="#e6dcae">
 <rect x="440" y="1180" width="4" height="217"/><rect x="456" y="1180" width="16" height="217"/>
 <rect x="533" y="1180" width="16" height="217"/><rect x="563" y="1180" width="4" height="217"/>
</g>
<g stroke-width="1">
 <line x1="444" y1="1185" x2="444" y2="1395" stroke="#4a8ad0"/><line x1="455" y1="1185" x2="455" y2="1395" stroke="#d05050"/>
 <line x1="551" y1="1185" x2="551" y2="1395" stroke="#4a8ad0"/><line x1="562" y1="1185" x2="562" y2="1395" stroke="#d05050"/>
</g>
<rect x="472" y="1183" width="61" height="222" fill="#c8202c"/>
<rect x="478" y="1176" width="24" height="22" fill="#e6e2dc" stroke="#c0bcb6" stroke-width="0.6"/>
<rect x="504" y="1176" width="25" height="22" fill="#e6e2dc" stroke="#c0bcb6" stroke-width="0.6"/>
<g fill="#3a3434"><rect x="485" y="1210" width="10" height="5"/><rect x="510" y="1210" width="10" height="5"/><rect x="497" y="1228" width="9" height="16"/><rect x="487" y="1252" width="8" height="5"/><rect x="508" y="1252" width="8" height="5"/></g>
<rect x="487" y="1270" width="34" height="36" fill="#1b1a1d"/>
<rect x="490" y="1318" width="26" height="10" rx="5" fill="#b4b4b6"/>
<rect x="483" y="1345" width="39" height="37" fill="#141416"/>
<rect x="488" y="1352" width="29" height="24" fill="#262628"/>
<rect x="492" y="1386" width="8" height="10" fill="#d8d4d0"/>
<path d="M443 1190 C438 1138 558 1138 554 1190" fill="none" stroke="#1e1e20" stroke-width="3"/>
<circle cx="443" cy="1192" r="3.5" fill="#1e1e20"/><circle cx="554" cy="1192" r="3.5" fill="#1e1e20"/>
<path d="M465 1262 C458 1240 500 1240 530 1250 C555 1258 575 1265 568 1268" fill="none" stroke="#d02828" stroke-width="2.5"/>
<path d="M510 1246 C540 1236 585 1250 562 1264" fill="none" stroke="#222" stroke-width="2.5"/>
<rect x="552" y="1265" width="6" height="22" fill="#1e1e20"/>
<rect x="462" y="1255" width="5" height="18" fill="#1e1e20"/>
<path d="M449 1326 C420 1330 405 1366 438 1369 C470 1372 472 1350 466 1330" fill="none" stroke="#2a58c8" stroke-width="2.5"/>

<g fill="#ccffcc" stroke="#ff2020" stroke-width="2">
 <rect x="595" y="1148" width="65" height="23"/>
 <rect x="393" y="1444" width="83" height="22"/>
 <rect x="533" y="1444" width="82" height="22"/>
 <rect x="393" y="1473" width="246" height="51"/>
</g>
<g font-size="11" fill="#111">
 <text x="603" y="1164" word-spacing="3">공통 GND</text>
 <text x="434" y="1459" text-anchor="middle">3.3V LINE</text>
 <text x="574" y="1459" text-anchor="middle">5.0V LINE</text>
 <text x="400" y="1488" word-spacing="2.5">3.3V 출력 레귤레이터가 내장되어 있어 3.3V를</text>
 <text x="400" y="1502" word-spacing="2.5">사용하는 외부모듈을 사용할 경우 별도의 3.3V</text>
 <text x="400" y="1516" word-spacing="2.5">공급 전원을 사용할 필요가 없습니다.</text>
</g>
<g stroke="#1f6fff" stroke-width="1.8" marker-end="url(#ac)">
 <line x1="594" y1="1159" x2="553" y2="1159"/>
 <line x1="432" y1="1443" x2="454" y2="1386"/>
 <line x1="576" y1="1443" x2="555" y2="1283"/>
</g>
</svg>
</body></html>
